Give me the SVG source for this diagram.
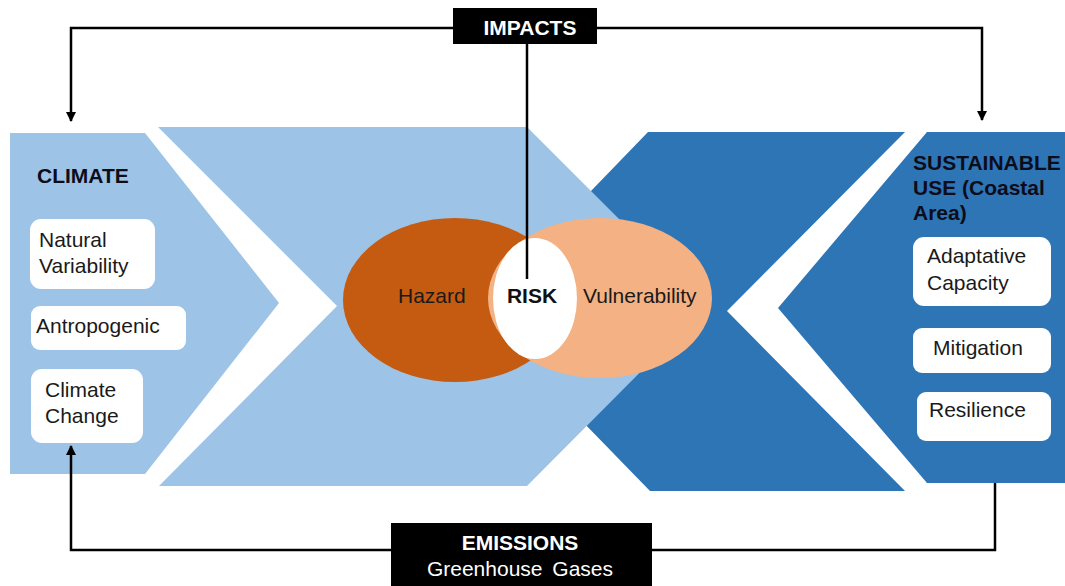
<svg xmlns="http://www.w3.org/2000/svg" width="1065" height="586" viewBox="0 0 1065 586">
  <defs>
    <style>
      text { font-family: "Liberation Sans", Arial, sans-serif; font-size: 21px; }
      .lbl { fill: #1a1a1a; }
      .ttl { fill: #0d0d1a; font-weight: bold; }
      .inv { fill: #ffffff; }
      .b { font-weight: bold; }
      .box { fill: #ffffff; }
      .light { fill: #9DC3E6; }
      .dark { fill: #2E75B6; }
      .wire { fill: none; stroke: #000000; stroke-width: 2.5; }
    </style>
    <marker id="arrow" viewBox="0 0 10 10" refX="9" refY="5" markerWidth="4" markerHeight="4" orient="auto-start-reverse">
      <path d="M0,0 L10,5 L0,10 Z" fill="#000000"/>
    </marker>
  </defs>

  <rect width="1065" height="586" fill="#ffffff"/>

  <!-- background chevrons -->
  <g id="bands">
    <polygon class="dark" points="648,132 905,132 727,311 905,491 650,491 475,311"/>
    <polygon class="light" points="158,127 527,127 706,306 527,486 159,486 337,306"/>
  </g>

  <!-- climate block -->
  <g id="climate">
    <polygon class="light" points="10,133 145,133 279,303 145,474 10,474"/>
    <text class="ttl" x="37" y="183">CLIMATE</text>
  </g>
  <g id="natural-variability">
    <rect class="box" x="30" y="219" width="125" height="70" rx="11"/>
    <text class="lbl" x="39" y="247">Natural</text>
    <text class="lbl" x="39" y="273">Variability</text>
  </g>
  <g id="antropogenic">
    <rect class="box" x="31" y="306" width="155" height="44" rx="9"/>
    <text class="lbl" x="36" y="333">Antropogenic</text>
  </g>
  <g id="climate-change">
    <rect class="box" x="31" y="369" width="112" height="74" rx="11"/>
    <text class="lbl" x="45" y="397">Climate</text>
    <text class="lbl" x="45" y="423">Change</text>
  </g>

  <!-- sustainable use block -->
  <g id="sustainable-use">
    <polygon class="dark" points="927,132 1065,132 1065,483 927,483 778,308"/>
    <text class="ttl" x="913" y="170">SUSTAINABLE</text>
    <text class="ttl" x="913" y="195">USE (Coastal</text>
    <text class="ttl" x="913" y="220">Area)</text>
  </g>
  <g id="adaptative-capacity">
    <rect class="box" x="913" y="237" width="138" height="69" rx="11"/>
    <text class="lbl" x="927" y="263">Adaptative</text>
    <text class="lbl" x="927" y="290">Capacity</text>
  </g>
  <g id="mitigation">
    <rect class="box" x="913" y="328" width="138" height="45" rx="9"/>
    <text class="lbl" x="933" y="355">Mitigation</text>
  </g>
  <g id="resilience">
    <rect class="box" x="917" y="392" width="134" height="49" rx="9"/>
    <text class="lbl" x="929" y="417">Resilience</text>
  </g>

  <!-- risk overlap -->
  <g id="hazard">
    <ellipse cx="455" cy="300" rx="112" ry="82" fill="#C55A11"/>
    <text class="lbl" x="398" y="303">Hazard</text>
  </g>
  <g id="vulnerability">
    <ellipse cx="600" cy="298" rx="112" ry="80" fill="#F4B183"/>
    <text class="lbl" x="583" y="303">Vulnerability</text>
  </g>
  <g id="risk">
    <ellipse cx="535" cy="298.5" rx="42" ry="60.5" fill="#ffffff"/>
    <text class="b" x="532" y="303" text-anchor="middle" fill="#111111">RISK</text>
  </g>

  <!-- connectors -->
  <g id="connectors">
    <polyline class="wire" points="71,121 71,28 982,28 982,120" marker-start="url(#arrow)" marker-end="url(#arrow)"/>
    <line class="wire" x1="527" y1="44" x2="527" y2="279"/>
    <polyline class="wire" points="71,446 71,550 995,550 995,483" marker-start="url(#arrow)"/>
  </g>

  <!-- feedback labels -->
  <g id="impacts">
    <rect x="453" y="8" width="144" height="36" fill="#000000"/>
    <text class="inv b" x="530" y="35" text-anchor="middle">IMPACTS</text>
  </g>
  <g id="emissions">
    <rect x="391" y="523" width="261" height="63" fill="#000000"/>
    <text class="inv b" x="520" y="550" text-anchor="middle">EMISSIONS</text>
    <text class="inv" x="520" y="576" text-anchor="middle" word-spacing="4">Greenhouse Gases</text>
  </g>
</svg>
